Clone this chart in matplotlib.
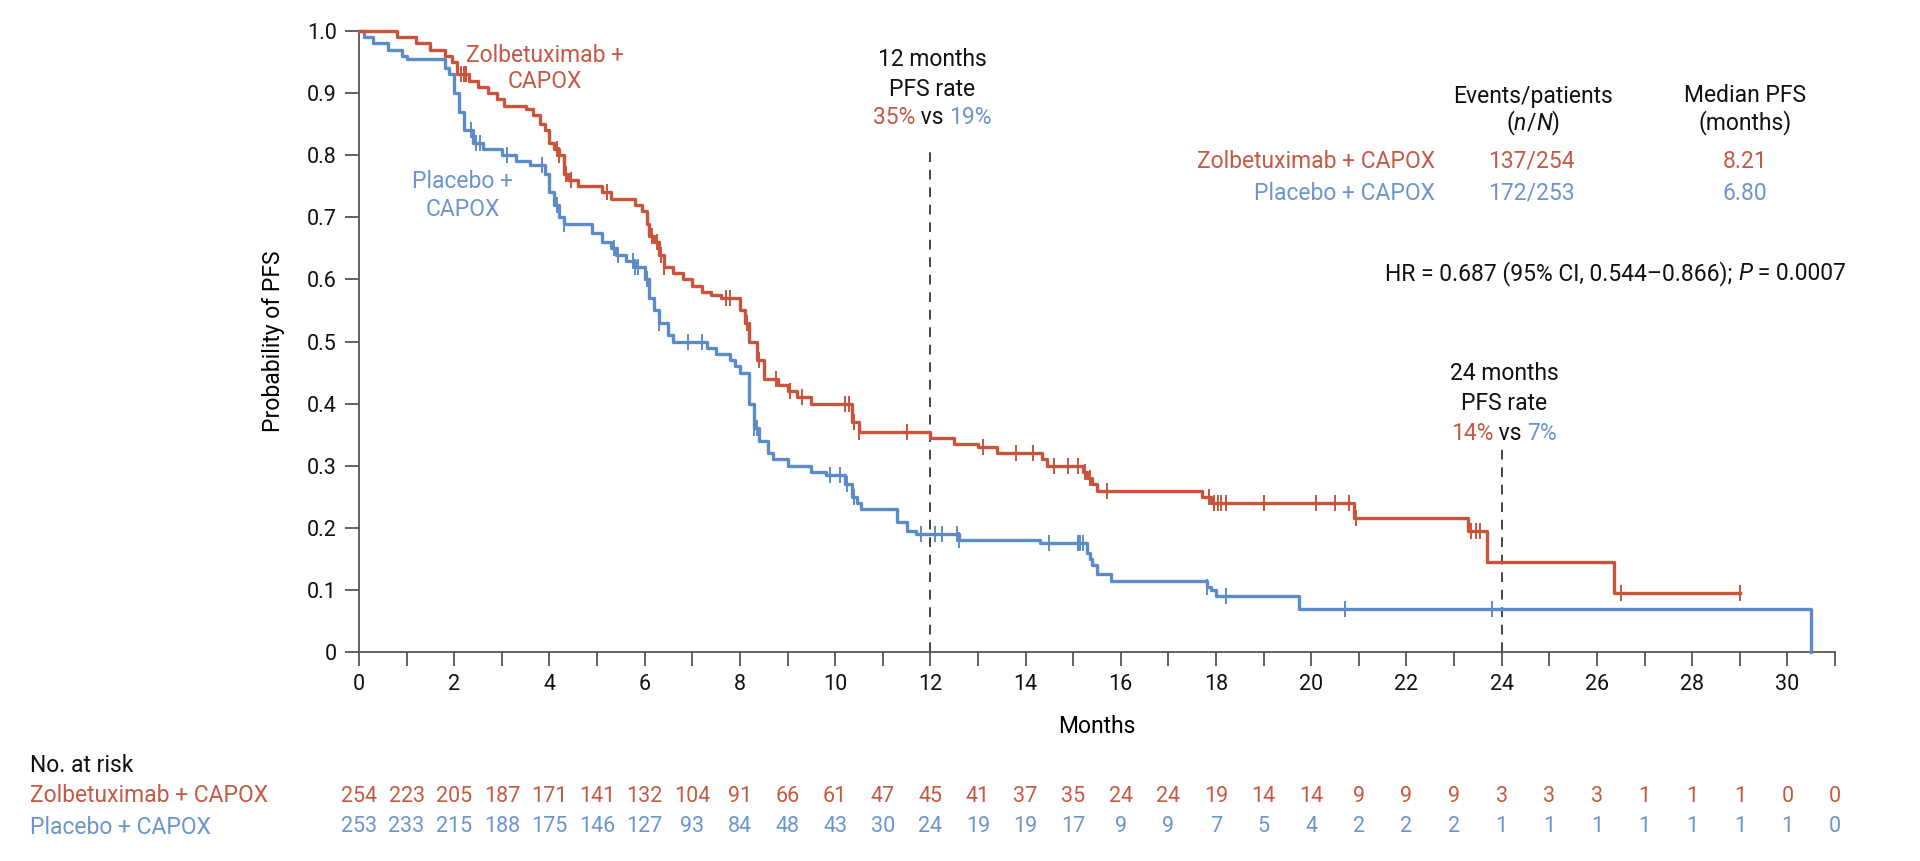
import matplotlib
matplotlib.use('Agg')
import matplotlib.pyplot as plt
import numpy as np

plt.rcParams['font.family'] = ['Roboto', 'DejaVu Sans']

RED = '#C9533B'
BLUE = '#5B8BC8'
RED_TXT = '#C45A44'
BLUE_TXT = '#6C95CB'

# Zolbetuximab + CAPOX: step times / survival
red_t = [0, 0.8, 1.2, 1.5, 1.8, 1.95, 2.05, 2.3, 2.5, 2.7, 2.9, 3.05, 3.5, 3.65, 3.8,
         3.9, 4.0, 4.1, 4.2, 4.3, 4.4, 4.6, 5.1, 5.3, 5.8, 5.95, 6.05, 6.1, 6.2, 6.3,
         6.4, 6.6, 6.8, 7.0, 7.2, 7.4, 7.6, 8.0, 8.1, 8.2, 8.35, 8.5, 8.8, 9.0, 9.2,
         9.5, 10.35, 10.5, 12.0, 12.5, 13.0, 13.4, 14.35, 14.45, 15.2, 15.3, 15.4, 15.5,
         17.7, 17.9, 20.9, 23.3, 23.7, 26.35]
red_s = [1.0, 0.99, 0.98, 0.97, 0.96, 0.95, 0.93, 0.92, 0.91, 0.90, 0.89, 0.88, 0.875, 0.865, 0.85,
         0.84, 0.82, 0.81, 0.80, 0.77, 0.76, 0.75, 0.74, 0.73, 0.72, 0.71, 0.69, 0.67, 0.66, 0.64,
         0.62, 0.61, 0.60, 0.59, 0.58, 0.575, 0.57, 0.55, 0.53, 0.50, 0.47, 0.44, 0.43, 0.42, 0.41,
         0.40, 0.37, 0.355, 0.345, 0.335, 0.33, 0.32, 0.31, 0.30, 0.29, 0.28, 0.27, 0.26,
         0.25, 0.24, 0.215, 0.195, 0.145, 0.095]
red_end = 29.0
red_cens = [2.15, 2.2, 2.25, 4.15, 4.2, 4.35, 4.45, 5.2, 6.15, 6.25, 6.35, 6.4, 7.7, 7.8, 8.15,
            8.4, 8.75, 9.05, 9.3, 10.2, 10.3, 10.4, 10.5, 11.5, 13.1, 13.8, 14.15, 14.6, 14.9,
            15.1, 15.25, 15.35, 15.7, 17.85, 17.95, 18.05, 18.1, 18.2, 19.0, 20.1, 20.5, 20.8,
            20.95, 23.35, 23.45, 23.55, 26.5, 29.0]

# Placebo + CAPOX
blue_t = [0, 0.1, 0.3, 0.6, 0.9, 1.0, 1.8, 1.9, 2.0, 2.1, 2.2, 2.4, 2.6, 3.0, 3.3,
          3.6, 3.9, 4.0, 4.1, 4.2, 4.3, 4.9, 5.1, 5.3, 5.4, 5.6, 5.8, 6.0, 6.1, 6.2,
          6.3, 6.5, 6.6, 7.3, 7.5, 7.8, 7.9, 8.0, 8.2, 8.3, 8.4, 8.6, 8.7, 9.0, 9.5,
          9.8, 10.2, 10.35, 10.45, 10.55, 11.3, 11.5, 11.7, 12.6, 14.3, 15.3, 15.35, 15.4, 15.5,
          15.8, 17.8, 17.9, 18.0, 19.75, 30.5]
blue_s = [1.0, 0.99, 0.98, 0.97, 0.96, 0.955, 0.94, 0.93, 0.90, 0.87, 0.84, 0.82, 0.81, 0.80, 0.79,
          0.785, 0.77, 0.74, 0.72, 0.70, 0.69, 0.675, 0.66, 0.65, 0.64, 0.63, 0.62, 0.60, 0.57, 0.55,
          0.53, 0.51, 0.50, 0.49, 0.48, 0.47, 0.46, 0.45, 0.40, 0.36, 0.34, 0.32, 0.31, 0.30, 0.29,
          0.285, 0.27, 0.25, 0.24, 0.23, 0.21, 0.195, 0.19, 0.18, 0.175, 0.16, 0.15, 0.14, 0.125,
          0.115, 0.105, 0.10, 0.09, 0.07, 0.0]
blue_end = 30.5
blue_cens = [2.35, 2.45, 2.55, 3.1, 3.85, 4.15, 4.3, 5.35, 5.45, 5.75, 5.8, 5.85, 6.05, 6.3, 6.9,
             7.2, 8.3, 8.35, 9.9, 10.1, 10.25, 10.4, 11.8, 12.1, 12.25, 12.55, 12.6, 14.5, 15.1,
             15.15, 15.2, 17.8, 18.2, 20.7, 23.8]

risk_months = list(range(32))
red_risk = [254, 223, 205, 187, 171, 141, 132, 104, 91, 66, 61, 47, 45, 41, 37, 35, 24, 24, 19, 14,
            14, 9, 9, 9, 3, 3, 3, 1, 1, 1, 0, 0]
blue_risk = [253, 233, 215, 188, 175, 146, 127, 93, 84, 48, 43, 30, 24, 19, 19, 17, 9, 9, 7, 5,
             4, 2, 2, 2, 1, 1, 1, 1, 1, 1, 1, 0]

W, H = 1920, 861
FS = 15.5
fig = plt.figure(figsize=(W / 100, H / 100), dpi=100)
ax = fig.add_axes([359 / W, 1 - 652 / H, (1835 - 359) / W, (652 - 31) / H])


def step_arrays(t, s, end):
    tt = list(t) + [end]
    ss = list(s) + [s[-1]]
    return tt, ss


def surv_at(t, s, x):
    idx = np.searchsorted(t, x, side='right') - 1
    return np.array(s)[idx]


for t, s, end, cens, col in [(blue_t, blue_s, blue_end, blue_cens, BLUE),
                             (red_t, red_s, red_end, red_cens, RED)]:
    tt, ss = step_arrays(t, s, end)
    ax.step(tt, ss, where='post', color=col, lw=2.4, clip_on=False, zorder=3)
    ax.plot(cens, surv_at(t, s, cens), ls='', marker='|', ms=11, mew=1.4, color=col,
            clip_on=False, zorder=3)

# reference lines at 12 and 24 months
ax.plot([12, 12], [0, 0.815], ls=(0, (5, 4)), color='#444444', lw=1.4, zorder=2)
ax.plot([24, 24], [0, 0.327], ls=(0, (5, 4)), color='#444444', lw=1.4, zorder=2)

ax.set_xlim(0, 31)
ax.set_ylim(0, 1.0)
ax.set_xticks(range(0, 32))
ax.set_xticklabels([str(m) if m % 2 == 0 else '' for m in range(32)])
ax.set_yticks(np.arange(0, 1.01, 0.1))
ax.set_yticklabels(['0'] + ['%.1f' % v for v in np.arange(0.1, 1.01, 0.1)])
for sp in ['top', 'right']:
    ax.spines[sp].set_visible(False)
for sp in ['left', 'bottom']:
    ax.spines[sp].set_color('#555555')
    ax.spines[sp].set_linewidth(1.3)
ax.tick_params(direction='out', length=10, width=1.3, color='#555555', labelsize=FS,
               labelcolor='#111111', pad=6)
ax.set_xlabel('Months', fontsize=FS + 1, labelpad=14)
ax.set_ylabel('Probability of PFS', fontsize=FS + 1, labelpad=16)

renderer = fig.canvas.get_renderer()


def fx(px):
    return px / W


def fy(py):
    return 1 - py / H


def multi(x, y, parts, ha='center', size=FS):
    # parts: (text, colour, style)
    texts = [fig.text(0, 0, s, color=c, style=st, fontsize=size, va='center', ha='left')
             for s, c, st in parts]
    widths = [tx.get_window_extent(renderer).width for tx in texts]
    total = sum(widths)
    if ha == 'center':
        x0 = x - total / 2
    elif ha == 'right':
        x0 = x - total
    else:
        x0 = x
    for tx, w in zip(texts, widths):
        tx.set_position((fx(x0), fy(y)))
        x0 += w


K = '#111111'
# curve labels
fig.text(fx(545), fy(55), 'Zolbetuximab +', color=RED_TXT, fontsize=FS + 1, ha='center', va='center')
fig.text(fx(545), fy(82), 'CAPOX', color=RED_TXT, fontsize=FS + 1, ha='center', va='center')
fig.text(fx(463), fy(182), 'Placebo +', color=BLUE_TXT, fontsize=FS + 1, ha='center', va='center')
fig.text(fx(463), fy(209), 'CAPOX', color=BLUE_TXT, fontsize=FS + 1, ha='center', va='center')

# 12 / 24 month rates
fig.text(fx(932), fy(59), '12 months', color=K, fontsize=FS + 1, ha='center', va='center')
fig.text(fx(932), fy(89), 'PFS rate', color=K, fontsize=FS + 1, ha='center', va='center')
multi(932, 118, [('35%', RED_TXT, 'normal'), (' vs ', K, 'normal'), ('19%', BLUE_TXT, 'normal')],
      size=FS + 1)
fig.text(fx(1504), fy(374), '24 months', color=K, fontsize=FS + 1, ha='center', va='center')
fig.text(fx(1504), fy(404), 'PFS rate', color=K, fontsize=FS + 1, ha='center', va='center')
multi(1504, 433, [('14%', RED_TXT, 'normal'), (' vs ', K, 'normal'), ('7%', BLUE_TXT, 'normal')],
      size=FS + 1)

# summary table
fig.text(fx(1533), fy(96), 'Events/patients', color=K, fontsize=FS + 1, ha='center', va='center')
multi(1533, 123, [('(', K, 'normal'), ('n', K, 'italic'), ('/', K, 'normal'), ('N', K, 'italic'),
                  (')', K, 'normal')], size=FS + 1)
fig.text(fx(1745), fy(96), 'Median PFS', color=K, fontsize=FS + 1, ha='center', va='center')
fig.text(fx(1745), fy(123), '(months)', color=K, fontsize=FS + 1, ha='center', va='center')
fig.text(fx(1435), fy(161), 'Zolbetuximab + CAPOX', color=RED_TXT, fontsize=FS + 1, ha='right', va='center')
fig.text(fx(1435), fy(193), 'Placebo + CAPOX', color=BLUE_TXT, fontsize=FS + 1, ha='right', va='center')
fig.text(fx(1531), fy(161), '137/254', color=RED_TXT, fontsize=FS + 1, ha='center', va='center')
fig.text(fx(1531), fy(193), '172/253', color=BLUE_TXT, fontsize=FS + 1, ha='center', va='center')
fig.text(fx(1745), fy(161), '8.21', color=RED_TXT, fontsize=FS + 1, ha='center', va='center')
fig.text(fx(1745), fy(193), '6.80', color=BLUE_TXT, fontsize=FS + 1, ha='center', va='center')
multi(1846, 274, [('HR = 0.687 (95% CI, 0.544\u20130.866); ', K, 'normal'), ('P', K, 'italic'),
                  (' = 0.0007', K, 'normal')], ha='right', size=FS + 1)

# number at risk
fig.text(fx(30), fy(766), 'No. at risk', color=K, fontsize=FS + 1, ha='left', va='center')
fig.text(fx(30), fy(796), 'Zolbetuximab + CAPOX', color=RED_TXT, fontsize=FS + 1, ha='left', va='center')
fig.text(fx(30), fy(827), 'Placebo + CAPOX', color=BLUE_TXT, fontsize=FS + 1, ha='left', va='center')
trans = ax.get_xaxis_transform()
for m, r, b in zip(risk_months, red_risk, blue_risk):
    ax.text(m, -(796 - 652) / (652 - 31), str(r), transform=trans, color=RED_TXT, fontsize=FS,
            ha='center', va='center', clip_on=False)
    ax.text(m, -(827 - 652) / (652 - 31), str(b), transform=trans, color=BLUE_TXT, fontsize=FS,
            ha='center', va='center', clip_on=False)

fig.savefig('out.png', dpi=100, facecolor='white')
